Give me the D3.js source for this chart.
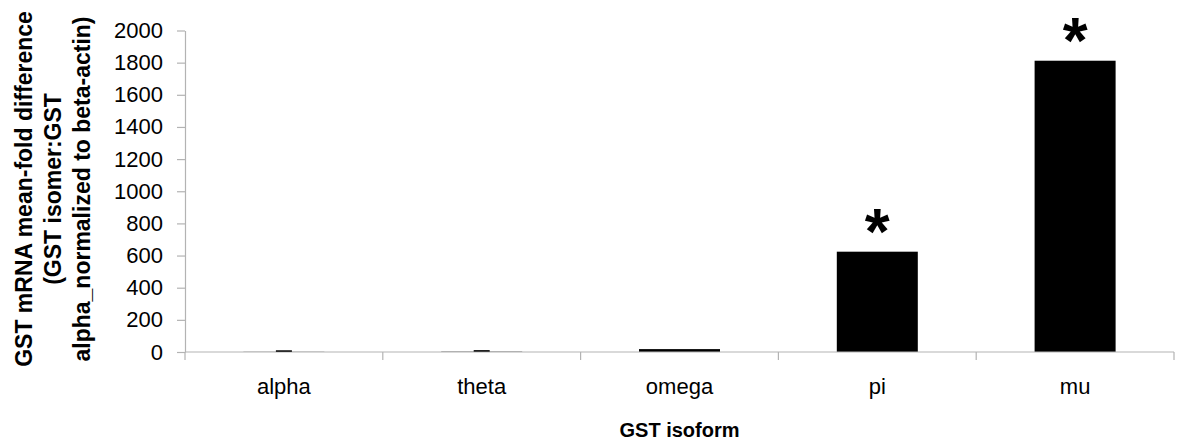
<!DOCTYPE html>
<html>
<head>
<meta charset="utf-8">
<script src="https://cdn.jsdelivr.net/npm/d3@7"></script>
<style>
  html, body { margin: 0; padding: 0; background: #fff; }
  svg { display: block; font-family: "Liberation Sans", Arial, sans-serif; }
</style>
</head>
<body>
<svg id="chart" width="1188" height="445"></svg>
<script>
// GST isoform expression relative to GST alpha
const isoforms = ["alpha", "theta", "omega", "pi", "mu"];
const meanFold = [1, 2, 18, 624, 1812];
const errorBars = [5, 5, 0, 0, 0];
const significant = [false, false, false, true, true];
const yTicks = [0, 200, 400, 600, 800, 1000, 1200, 1400, 1600, 1800, 2000];
const yTitleLines = [
  "GST mRNA mean-fold difference",
  "(GST isomer:GST",
  "alpha_normalized to beta-actin)"
];
const xTitle = "GST isoform";

const svg = d3.select("#chart");
const plotLeft = 185, plotRight = 1174, plotTop = 30.5, plotBottom = 352;
const axisColor = "#b3b3b3";

const x = d3.scaleBand().domain(isoforms).range([plotLeft, plotRight]).paddingInner(0).paddingOuter(0);
const y = d3.scaleLinear().domain([0, 2000]).range([plotBottom, plotTop]);
const barW = 81;

const rows = isoforms.map((d, i) => ({ name: d, value: meanFold[i], err: errorBars[i], sig: significant[i] }));

// bars
svg.selectAll(".bar").data(rows).enter().append("rect")
  .attr("x", d => x(d.name) + x.bandwidth() / 2 - barW / 2)
  .attr("width", barW)
  .attr("y", d => y(d.value))
  .attr("height", d => y(0) - y(d.value))
  .attr("fill", "#000");

// y axis
const yAxis = svg.append("g")
  .attr("transform", `translate(${plotLeft},0)`)
  .call(d3.axisLeft(y).tickValues(yTicks).tickFormat(d3.format("d"))
    .tickSize(8).tickPadding(14).tickSizeOuter(0));
yAxis.select(".domain").attr("stroke", axisColor).attr("stroke-width", 1.2);
yAxis.selectAll(".tick line").attr("stroke", axisColor).attr("stroke-width", 1.2);
yAxis.selectAll(".tick text")
  .attr("font-size", 22).attr("fill", "#000")
  .attr("font-family", "'Liberation Sans', Arial, sans-serif");

// x axis line with ticks at category boundaries
svg.append("line")
  .attr("x1", plotLeft).attr("x2", plotRight).attr("y1", y(0)).attr("y2", y(0))
  .attr("stroke", axisColor).attr("stroke-width", 1.2);
const boundaries = isoforms.map(d => x(d)).concat([x(isoforms[isoforms.length - 1]) + x.bandwidth()]);
svg.selectAll(".xtick").data(boundaries).enter().append("line")
  .attr("x1", d => d).attr("x2", d => d)
  .attr("y1", y(0)).attr("y2", y(0) + 8)
  .attr("stroke", axisColor).attr("stroke-width", 1.2);

// category labels
svg.selectAll(".xlabel").data(isoforms).enter().append("text")
  .attr("x", d => x(d) + x.bandwidth() / 2)
  .attr("y", 394)
  .attr("text-anchor", "middle")
  .attr("font-size", 22)
  .text(d => d);

// error caps
const capW = 16;
const withErr = rows.filter(d => d.err > 0);
svg.selectAll(".errcap").data(withErr).enter().append("line")
  .attr("x1", d => x(d.name) + x.bandwidth() / 2 - capW / 2)
  .attr("x2", d => x(d.name) + x.bandwidth() / 2 + capW / 2)
  .attr("y1", d => y(d.value + d.err)).attr("y2", d => y(d.value + d.err))
  .attr("stroke", "#000").attr("stroke-width", 1.5);

// significance markers
svg.selectAll(".star").data(rows.filter(d => d.sig)).enter().append("text")
  .attr("x", d => x(d.name) + x.bandwidth() / 2)
  .attr("y", d => y(d.value) + 2)
  .attr("text-anchor", "middle")
  .attr("font-size", 64)
  .attr("font-weight", "bold")
  .text("*");

// axis titles
svg.append("text")
  .attr("x", (plotLeft + plotRight) / 2)
  .attr("y", 437)
  .attr("text-anchor", "middle")
  .attr("font-size", 20)
  .attr("font-weight", "bold")
  .text(xTitle);

const baselines = [32, 61, 90];
yTitleLines.forEach((line, i) => {
  svg.append("text")
    .attr("transform", `translate(${baselines[i]},189) rotate(-90)`)
    .attr("text-anchor", "middle")
    .attr("font-size", 23)
    .attr("font-weight", "bold")
    .text(line);
});
</script>
</body>
</html>
